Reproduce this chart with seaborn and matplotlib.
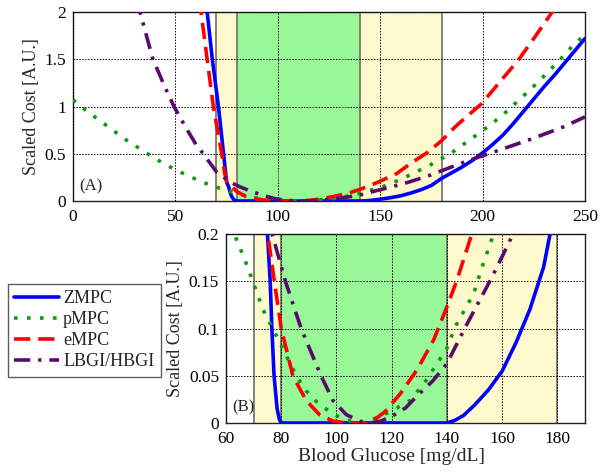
import numpy as np
import pandas as pd
import matplotlib
matplotlib.use('Agg')
import matplotlib.pyplot as plt
import seaborn as sns
from matplotlib.ticker import FormatStrFormatter

# --- data ---
zmpc_x = [63.5, 65.5, 68, 71, 73.5, 75, 76, 76.6, 77.4, 78.5, 79.3, 80, 90, 100, 110, 120, 130, 140,
          143, 146, 150, 155, 160, 165, 170, 175, 180, 185, 190, 195, 200, 205, 210, 215, 220, 225,
          230, 235, 240, 245, 250]
zmpc_y = [2.5, 2.0, 1.5, 1.0, 0.5, 0.2, 0.15, 0.1, 0.05, 0.015, 0.004, 0, 0, 0, 0, 0, 0, 0,
          0.003, 0.008, 0.019, 0.035, 0.055, 0.085, 0.12, 0.165, 0.24, 0.3, 0.36, 0.43, 0.51, 0.6,
          0.7, 0.82, 0.95, 1.08, 1.21, 1.33, 1.46, 1.59, 1.72]

pmpc_x = [0, 5, 10, 15, 20, 25, 30, 35, 40, 45, 50, 55, 60, 63, 66.5, 69.7, 73.4, 76.9, 80, 85.4,
          89, 93, 97.5, 101.7, 105, 110, 114, 119.5, 126.7, 132.2, 140, 143, 149.7, 152.7, 156.9,
          165, 174.3, 184.9, 200, 209.3, 218.3, 227.2, 236.2, 244.3, 250]
pmpc_y = [1.07, 0.98, 0.9, 0.82, 0.74, 0.66, 0.59, 0.52, 0.45, 0.39, 0.33, 0.28, 0.23, 0.2, 0.175,
          0.15, 0.12, 0.1, 0.082, 0.05, 0.034, 0.022, 0.012, 0.005, 0.002, 0.001, 0.005, 0.012,
          0.024, 0.044, 0.079, 0.102, 0.137, 0.165, 0.2, 0.28, 0.38, 0.51, 0.745, 0.9, 1.08, 1.26,
          1.46, 1.65, 1.76]

empc_x = [61, 62.5, 65.5, 68.5, 72.6, 74, 75.1, 77.5, 80, 84.2, 89, 93.8, 98.8, 104, 110, 113,
          117.6, 123.1, 129.1, 135.2, 140, 143.6, 149, 158, 165, 173.5, 180, 187.3, 199.5, 208,
          217.4, 225, 233, 236]
empc_y = [2.2, 2.0, 1.5, 1.0, 0.5, 0.3, 0.2, 0.15, 0.1, 0.05, 0.024, 0.009, 0.002, 0.0, 0.0,
          0.002, 0.012, 0.031, 0.056, 0.088, 0.123, 0.151, 0.2, 0.29, 0.4, 0.52, 0.64, 0.8, 1.03,
          1.25, 1.49, 1.72, 1.97, 2.07]

bgi_x = [31, 32.7, 39, 45, 49.3, 55, 60, 63.6, 70, 76.7, 81.5, 87.2, 94.4, 98.7, 103.5, 108.3,
         112, 116, 120, 125, 130, 135, 140, 147.3, 155.7, 159.3, 163.6, 174, 180, 192, 207, 223,
         239, 250]
bgi_y = [2.15, 2.0, 1.5, 1.2, 1.0, 0.78, 0.6, 0.5, 0.31, 0.2, 0.15, 0.1, 0.05, 0.024, 0.009,
         0.002, 0.0, 0.002, 0.007, 0.016, 0.031, 0.045, 0.063, 0.105, 0.151, 0.172, 0.198, 0.27,
         0.32, 0.42, 0.53, 0.65, 0.78, 0.89]

labels = ['ZMPC', 'pMPC', 'eMPC', 'LBGI/HBGI']
colors = ['#0000ff', '#119a11', '#ff0000', '#5a0a6e']
styles = ['-', (0, (1, 2.6)), (0, (4.5, 2.2)), (0, (4.5, 2.2, 0.9, 2.2))]
series = [(zmpc_x, zmpc_y), (pmpc_x, pmpc_y), (empc_x, empc_y), (bgi_x, bgi_y)]

# target ranges
hypo_lo, euglyc_lo, euglyc_hi, hyper_hi = 70, 80, 140, 180

sns.set_style('white')
plt.rcParams['font.family'] = ['Liberation Serif', 'DejaVu Serif']
plt.rcParams['font.size'] = 12

fig = plt.figure(figsize=(6.04, 4.76), dpi=100)
ax_top = fig.add_axes([0.1209, 0.5777, 0.8477, 0.3971])
ax_bot = fig.add_axes([0.3742, 0.1113, 0.5944, 0.3971])


def draw_panel(ax, xlim, ylim, xticks, yticks, tag, tag_xy):
    ax.axvspan(hypo_lo, hyper_hi, color='#fffacd', zorder=0, lw=0)
    ax.axvspan(euglyc_lo, euglyc_hi, color='#98f898', zorder=0.5, lw=0)
    for v in [hypo_lo, euglyc_lo, euglyc_hi, hyper_hi]:
        ax.axvline(v, color='#6e6e62', lw=1.2, zorder=1)
    ax.set_axisbelow(False)
    ax.grid(True, color='black', linestyle=(0, (1.5, 1.5)), linewidth=0.7, zorder=1.5)
    for (x, y), lab, c, ls in zip(series, labels, colors, styles):
        sns.lineplot(x=x, y=y, ax=ax, color=c, linestyle=ls, lw=2.6, label=lab,
                     errorbar=None, legend=False, zorder=3)
    ax.set_xlim(*xlim)
    ax.set_ylim(*ylim)
    ax.set_xticks(xticks)
    ax.set_yticks(yticks)
    ax.yaxis.set_major_formatter(FormatStrFormatter('%g'))
    ax.tick_params(direction='in', length=3, labelsize=12.5, colors='black')
    ax.tick_params(axis='x', pad=6)
    ax.tick_params(axis='y', pad=5)
    for sp in ax.spines.values():
        sp.set_color('#222222')
        sp.set_linewidth(1.0)
    ax.set_ylabel('Scaled Cost [A.U.]', fontsize=13)
    ax.text(tag_xy[0], tag_xy[1], tag, fontsize=12, va='center', ha='left', zorder=4)


draw_panel(ax_top, (0, 250), (0, 2), [0, 50, 100, 150, 200, 250], [0, 0.5, 1, 1.5, 2],
           '(A)', (3.2, 0.16))
draw_panel(ax_bot, (60, 190), (0, 0.2), [60, 80, 100, 120, 140, 160, 180],
           [0, 0.05, 0.1, 0.15, 0.2], '(B)', (62.3, 0.017))
ax_bot.set_xlabel('Blood Glucose [mg/dL]', fontsize=14)
ax_bot.xaxis.set_label_coords(0.46, -0.13)
ax_top.yaxis.set_label_coords(-0.064, 0.5)
ax_bot.yaxis.set_label_coords(-0.118, 0.5)

handles = ax_top.get_lines()[4:8]
leg = fig.legend(handles, labels, loc='upper left', bbox_to_anchor=(8 / 604, 1 - 284 / 476),
                 fontsize=13, handlelength=2.5, handletextpad=0.2, labelspacing=0.22,
                 borderpad=0.35, fancybox=False, frameon=True, edgecolor='#333333',
                 borderaxespad=0)
leg.get_frame().set_linewidth(1.0)

fig.savefig('out.png', dpi=100)
